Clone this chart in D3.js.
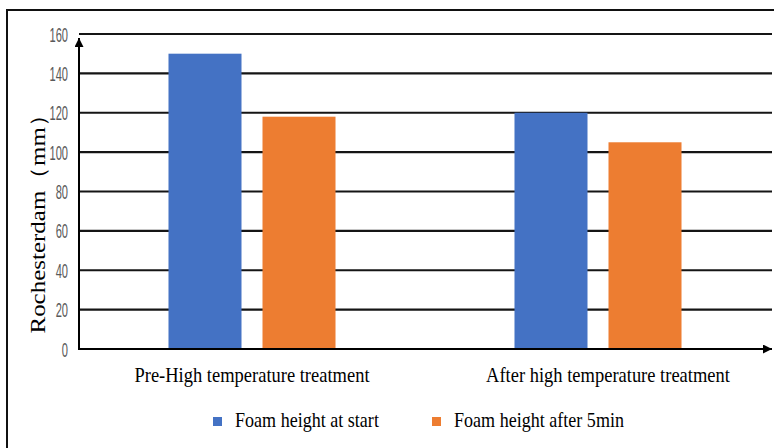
<!DOCTYPE html>
<html>
<head>
<script src="https://d3js.org/d3.v7.min.js"></script>
<style>
  body { margin: 0; background: #fff; }
  svg { display: block; }
</style>
</head>
<body>
<svg width="774" height="448"></svg>
<script>
// data
const categories = ["Pre-High temperature treatment", "After high temperature treatment"];
const seriesNames = ["Foam height at start", "Foam height after 5min"];
const startValues = [150, 120];
const after5Values = [118, 105];
const yTicks = [0, 20, 40, 60, 80, 100, 120, 140, 160];
const colors = ["#4472C4", "#ED7D31"];

const svg = d3.select("svg");
const serif = "'Liberation Serif', 'Times New Roman', serif";
const cond = "'Liberation Sans', Arial, sans-serif";

// the source image is squeezed horizontally, so text is scaled in x
const textSx = 0.86;
const tickSx = 0.57;

const plotL = 79, plotR = 771, plotT = 34, plotB = 349;

const x0 = d3.scaleBand().domain(categories).range([plotL, plotR]);
const x1 = d3.scaleBand().domain(seriesNames).range([0, x0.bandwidth()])
  .paddingInner(0.2234).paddingOuter(0.952);
const y = d3.scaleLinear().domain([0, 160]).range([plotB, plotT]);

const rows = categories.map((c, i) => ({
  cat: c,
  vals: [
    { s: seriesNames[0], v: startValues[i] },
    { s: seriesNames[1], v: after5Values[i] }
  ]
}));

// outer frame (only left & top visible)
svg.append("path")
  .attr("d", "M7,448V10H774")
  .attr("fill", "none").attr("stroke", "#111").attr("stroke-width", 2);

// gridlines
svg.append("g").selectAll("line")
  .data(yTicks.filter(d => d > 0))
  .join("line")
  .attr("x1", plotL).attr("x2", plotR + 1)
  .attr("y1", d => y(d)).attr("y2", d => y(d))
  .attr("stroke", "#151515").attr("stroke-width", 2.2);

// bars
svg.append("g").selectAll("g")
  .data(rows)
  .join("g")
  .attr("transform", d => `translate(${x0(d.cat)},0)`)
  .selectAll("rect")
  .data(d => d.vals)
  .join("rect")
  .attr("x", d => x1(d.s))
  .attr("width", x1.bandwidth())
  .attr("y", d => y(d.v))
  .attr("height", d => y(0) - y(d.v))
  .attr("fill", (d, i) => colors[i]);

// arrow marker
const defs = svg.append("defs");
defs.append("marker")
  .attr("id", "arrow")
  .attr("viewBox", "0 0 10 10")
  .attr("refX", 10).attr("refY", 5)
  .attr("markerWidth", 10).attr("markerHeight", 9)
  .attr("markerUnits", "userSpaceOnUse")
  .attr("orient", "auto")
  .append("path").attr("d", "M0,0L10,5L0,10Z").attr("fill", "#000");

// axis lines with arrows
svg.append("line")
  .attr("x1", plotL).attr("x2", plotL)
  .attr("y1", y(0) + 1).attr("y2", 38)
  .attr("stroke", "#000").attr("stroke-width", 2)
  .attr("marker-end", "url(#arrow)");
svg.append("line")
  .attr("x1", plotL - 1).attr("x2", 772)
  .attr("y1", y(0)).attr("y2", y(0))
  .attr("stroke", "#000").attr("stroke-width", 2)
  .attr("marker-end", "url(#arrow)");

// y tick labels
const yAxis = svg.append("g")
  .attr("transform", `translate(${plotL},0)`)
  .call(d3.axisLeft(y).tickValues(yTicks).tickSize(0).tickPadding(0));
yAxis.select(".domain").remove();
yAxis.selectAll("text")
  .attr("x", -11 / tickSx)
  .attr("dy", "0.36em")
  .attr("transform", `scale(${tickSx},1)`)
  .attr("fill", "#595959")
  .style("font-family", cond)
  .style("font-size", "19.5px");

// x category labels (second label sits a bit right of its band centre)
const labelShift = [0, 10];
const xAxis = svg.append("g")
  .attr("transform", `translate(0,${y(0)})`)
  .call(d3.axisBottom(x0).tickSize(0).tickPadding(0));
xAxis.select(".domain").remove();
xAxis.selectAll("text")
  .attr("x", (d, i) => labelShift[i] / textSx)
  .attr("y", 33)
  .attr("dy", 0)
  .attr("transform", `scale(${textSx},1)`)
  .attr("fill", "#000")
  .style("font-family", serif)
  .style("font-size", "21.5px");

// y axis title
svg.append("text")
  .attr("transform", `translate(45,218) rotate(-90) scale(1,${textSx})`)
  .attr("text-anchor", "middle")
  .style("font-family", serif)
  .style("font-size", "25px")
  .attr("fill", "#000")
  .text("Rochesterdam（mm）");

// legend
const legendX = [213, 432];
const legend = svg.append("g").selectAll("g")
  .data(seriesNames)
  .join("g")
  .attr("transform", (d, i) => `translate(${legendX[i]},417)`);
legend.append("rect")
  .attr("width", 9).attr("height", 9)
  .attr("fill", (d, i) => colors[i]);
legend.append("text")
  .attr("transform", `translate(22,10) scale(${textSx},1)`)
  .style("font-family", serif)
  .style("font-size", "21px")
  .attr("fill", "#000")
  .text(d => d);
</script>
</body>
</html>
